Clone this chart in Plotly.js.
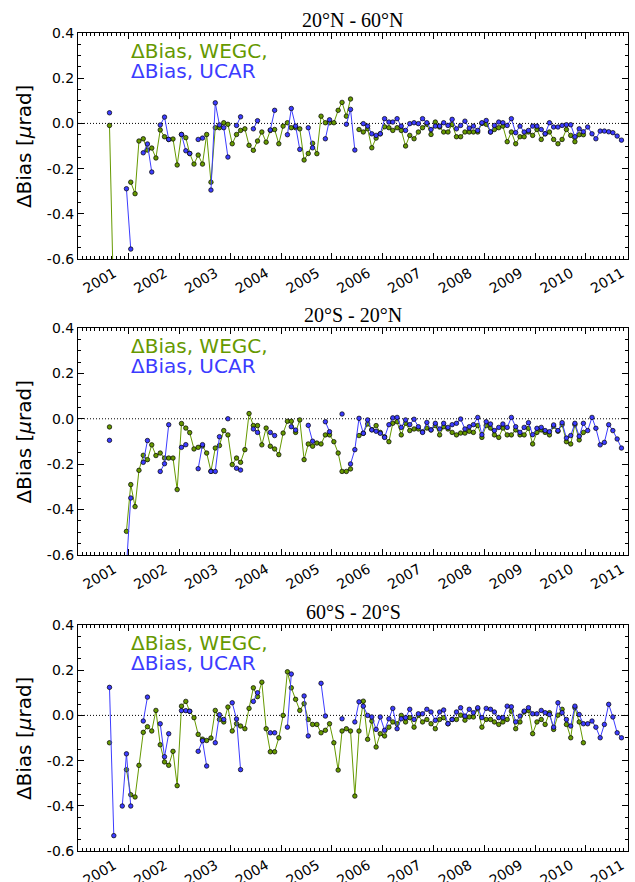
<!DOCTYPE html>
<html>
<head>
<meta charset="utf-8">
<script src="https://cdn.plot.ly/plotly-3.0.1.min.js"></script>
<style>html,body{margin:0;padding:0;background:#fff;}#chart{width:635px;height:882px;}</style>
</head>
<body>
<div id="chart"></div>
<script>
// Monthly dates (mid-month), Aug 2001 .. Sep 2011
const months = [
 '2001-08-15','2001-09-15','2001-10-15','2001-11-15','2001-12-15',
 '2002-01-15','2002-02-15','2002-03-15','2002-04-15','2002-05-15','2002-06-15','2002-07-15','2002-08-15','2002-09-15','2002-10-15','2002-11-15','2002-12-15',
 '2003-01-15','2003-02-15','2003-03-15','2003-04-15','2003-05-15','2003-06-15','2003-07-15','2003-08-15','2003-09-15','2003-10-15','2003-11-15','2003-12-15',
 '2004-01-15','2004-02-15','2004-03-15','2004-04-15','2004-05-15','2004-06-15','2004-07-15','2004-08-15','2004-09-15','2004-10-15','2004-11-15','2004-12-15',
 '2005-01-15','2005-02-15','2005-03-15','2005-04-15','2005-05-15','2005-06-15','2005-07-15','2005-08-15','2005-09-15','2005-10-15','2005-11-15','2005-12-15',
 '2006-01-15','2006-02-15','2006-03-15','2006-04-15','2006-05-15','2006-06-15','2006-07-15','2006-08-15','2006-09-15','2006-10-15','2006-11-15','2006-12-15',
 '2007-01-15','2007-02-15','2007-03-15','2007-04-15','2007-05-15','2007-06-15','2007-07-15','2007-08-15','2007-09-15','2007-10-15','2007-11-15','2007-12-15',
 '2008-01-15','2008-02-15','2008-03-15','2008-04-15','2008-05-15','2008-06-15','2008-07-15','2008-08-15','2008-09-15','2008-10-15','2008-11-15','2008-12-15',
 '2009-01-15','2009-02-15','2009-03-15','2009-04-15','2009-05-15','2009-06-15','2009-07-15','2009-08-15','2009-09-15','2009-10-15','2009-11-15','2009-12-15',
 '2010-01-15','2010-02-15','2010-03-15','2010-04-15','2010-05-15','2010-06-15','2010-07-15','2010-08-15','2010-09-15','2010-10-15','2010-11-15','2010-12-15',
 '2011-01-15','2011-02-15','2011-03-15','2011-04-15','2011-05-15','2011-06-15','2011-07-15','2011-08-15','2011-09-15'
];

const panelTitles = ['20°N - 60°N', '20°S - 20°N', '60°S - 20°S'];
const seriesNames = ['ΔBias, WEGC,', 'ΔBias, UCAR'];
const yTickVals = [-0.6, -0.4, -0.2, 0.0, 0.2, 0.4];
const yTickText = ['-0.6', '-0.4', '-0.2', '0.0', '0.2', '0.4'];
const yTitle = 'ΔBias [<i>μ</i>rad]';

// Panel 1: 20N-60N
const wegc1 = [
 -0.009, -0.82, null, null, null,
 -0.260, -0.311, -0.078, -0.068, -0.118, -0.109, -0.153, -0.029, -0.059, -0.071, -0.069, -0.184,
 -0.049, -0.063, -0.133, -0.180, -0.140, -0.180, -0.049, -0.260, -0.019, -0.019, 0.003, -0.004,
 -0.090, -0.049, -0.031, -0.024, -0.097, -0.119, -0.078, -0.038, -0.083, -0.031, -0.027, -0.090,
 -0.012, 0.003, -0.019, -0.019, -0.024, -0.162, -0.133, -0.088, -0.134, 0.032, 0.003, 0.003,
 0.003, 0.058, 0.093, 0.032, 0.108, null, -0.027, -0.038, -0.024, -0.108, -0.065, -0.046,
 -0.015, -0.019, -0.031, -0.019, -0.031, -0.100, -0.053, -0.068, -0.038, -0.019, -0.004, -0.049,
 0.006, -0.016, -0.038, -0.038, -0.005, -0.059, -0.059, -0.038, -0.038, -0.038, -0.038, 0.000,
 -0.004, -0.038, -0.027, -0.019, -0.012, -0.081, -0.038, -0.090, -0.059, -0.059, -0.038, -0.053,
 -0.027, -0.071, -0.046, -0.038, -0.071, -0.090, -0.071, -0.027, -0.053, -0.081, -0.050, -0.050,
 null, null, null, null, null, null, null, null, null
];
const ucar1 = [
 0.047, null, null, null, -0.289,
 -0.556, null, null, -0.130, -0.091, -0.215, null, -0.007, 0.028, -0.071, null, null,
 -0.049, -0.121, -0.133, null, -0.071, -0.065, null, -0.295, 0.091, -0.007, -0.019, -0.149,
 null, -0.009, 0.029, null, null, -0.024, 0.012, null, null, -0.029, 0.058, null,
 null, -0.050, 0.066, -0.012, -0.115, null, -0.019, -0.108, null, null, -0.068, 0.016,
 null, null, null, -0.004, 0.062, -0.118, null, -0.001, -0.012, -0.046, -0.053, -0.046,
 0.021, 0.006, 0.006, 0.021, -0.012, -0.031, -0.001, 0.003, -0.001, 0.021, 0.003, -0.027,
 -0.012, -0.012, 0.003, -0.009, 0.018, -0.024, -0.009, 0.010, -0.021, -0.012, -0.031, 0.003,
 0.013, -0.038, -0.009, 0.006, 0.003, -0.009, 0.021, -0.041, -0.012, -0.038, -0.031, -0.012,
 -0.012, -0.027, -0.046, 0.003, -0.016, -0.016, -0.009, -0.006, -0.006, -0.059, -0.024, -0.037,
 -0.016, -0.046, -0.068, -0.034, -0.034, -0.037, -0.041, -0.056, -0.074
];

// Panel 2: 20S-20N
const wegc2 = [
 -0.036, null, null, null, -0.496,
 -0.290, -0.387, -0.227, -0.161, -0.180, -0.115, -0.162, -0.151, -0.173, -0.173, -0.173, -0.312,
 -0.021, -0.041, -0.061, -0.133, -0.126, -0.120, -0.151, -0.231, -0.129, -0.118, -0.052, -0.071,
 -0.202, -0.173, -0.192, -0.136, 0.023, -0.030, -0.030, -0.115, -0.041, -0.121, -0.133, -0.158,
 -0.063, -0.011, -0.011, -0.060, -0.005, -0.180, -0.111, -0.121, -0.107, -0.111, -0.071, -0.071,
 -0.101, -0.151, -0.232, -0.232, -0.221, null, -0.074, -0.064, -0.023, -0.048, -0.030, -0.060,
 -0.079, -0.101, -0.020, -0.013, -0.071, -0.020, -0.052, -0.045, -0.045, -0.057, -0.041, -0.049,
 -0.030, -0.071, -0.035, -0.045, -0.060, -0.071, -0.063, -0.063, -0.055, -0.060, -0.030, -0.082,
 -0.030, -0.041, -0.071, -0.082, -0.041, -0.071, -0.071, -0.049, -0.071, -0.071, -0.042, -0.111,
 -0.060, -0.049, -0.060, -0.071, -0.033, -0.055, -0.026, -0.101, -0.111, -0.026, -0.093, -0.060,
 null, null, null, null, null, null, null, null, null
];
const ucar2 = [
 -0.095, null, null, null, -0.65,
 -0.349, null, null, -0.192, -0.096, null, null, -0.232, -0.198, -0.026, null, null,
 -0.126, -0.114, null, null, -0.220, -0.114, null, -0.232, -0.232, -0.079, null, 0.000,
 null, -0.218, -0.226, null, null, -0.045, -0.060, null, null, -0.060, -0.074, null,
 null, null, -0.035, -0.050, null, null, -0.029, -0.099, null, null, -0.013, -0.057,
 null, null, 0.021, null, -0.199, -0.136, 0.002, -0.064, -0.005, -0.049, -0.055, -0.064,
 -0.082, -0.026, 0.004, 0.006, -0.038, -0.005, -0.026, -0.002, -0.035, -0.060, -0.016, -0.049,
 -0.020, -0.045, -0.020, -0.038, -0.026, -0.020, -0.001, -0.045, -0.035, -0.026, 0.006, -0.070,
 -0.013, -0.023, -0.052, -0.038, -0.023, -0.038, 0.006, -0.035, -0.060, -0.038, -0.017, -0.070,
 -0.042, -0.038, -0.052, -0.057, -0.027, -0.052, -0.017, -0.085, -0.074, -0.020, -0.077, -0.020,
 -0.052, 0.006, -0.042, -0.115, -0.104, -0.026, -0.052, -0.089, -0.129
];

// Panel 3: 60S-20S
const wegc3 = [
 -0.121, null, null, null, -0.240,
 -0.351, -0.361, -0.221, -0.075, -0.050, -0.069, 0.022, -0.130, -0.206, -0.221, -0.159, -0.311,
 0.041, 0.062, 0.018, -0.010, -0.084, -0.105, -0.111, -0.100, 0.022, -0.018, -0.029, 0.037,
 -0.069, -0.037, -0.047, -0.059, 0.031, 0.122, 0.083, 0.147, -0.059, -0.161, -0.161, -0.099,
 0.000, 0.193, 0.122, 0.071, 0.022, 0.052, -0.018, -0.040, -0.040, -0.077, -0.066, -0.037,
 -0.121, -0.242, -0.069, -0.059, -0.069, -0.357, -0.069, 0.063, -0.106, -0.025, -0.140, -0.081,
 -0.091, -0.052, -0.029, -0.037, 0.000, -0.029, -0.010, -0.052, 0.000, -0.029, -0.018, -0.037,
 -0.059, -0.018, -0.010, -0.037, -0.018, -0.018, 0.001, -0.021, -0.007, -0.007, 0.029, -0.052,
 -0.018, -0.018, -0.029, -0.040, -0.029, -0.018, 0.019, -0.059, -0.029, 0.015, 0.022, -0.081,
 -0.029, -0.018, -0.040, 0.012, -0.062, 0.001, 0.027, -0.040, -0.099, 0.034, -0.029, -0.121,
 null, null, null, null, null, null, null, null, null
];
const ucar3 = [
 0.124, -0.532, null, -0.401, -0.170,
 -0.401, null, null, -0.025, 0.081, null, null, -0.037, -0.183, -0.081, null, null,
 0.021, 0.021, 0.018, null, -0.159, -0.112, -0.224, null, -0.121, 0.003, -0.018, null,
 0.056, -0.016, -0.240, null, null, 0.062, 0.100, null, null, -0.077, -0.077, null,
 null, -0.052, 0.183, null, null, 0.086, -0.091, null, null, 0.142, -0.003, null,
 null, null, -0.015, null, null, -0.029, 0.060, 0.041, 0.000, -0.007, -0.062, -0.007,
 -0.066, -0.015, 0.031, -0.059, -0.015, -0.010, 0.027, -0.018, 0.007, 0.007, 0.027, 0.015,
 -0.022, 0.015, 0.024, -0.037, -0.018, 0.015, 0.034, -0.003, 0.027, 0.012, 0.034, -0.010,
 0.031, 0.027, 0.015, -0.010, -0.010, 0.041, 0.038, -0.029, -0.003, 0.019, 0.034, 0.007,
 0.007, 0.022, 0.012, 0.004, -0.052, 0.056, 0.012, -0.018, -0.047, 0.041, 0.004, -0.037,
 -0.037, -0.025, -0.052, -0.099, -0.040, 0.049, -0.007, -0.077, -0.099
];

const GREEN = '#669900';
const BLUE = '#3c3cff';
const panels = [[wegc1, ucar1], [wegc2, ucar2], [wegc3, ucar3]];
const yDomains = [[0.7237, 1], [0.3619, 0.6394], [0, 0.2763]];

const traces = [];
const annotations = [];
const shapes = [];
const layout = {
  width: 635, height: 882,
  margin: {l: 78, r: 7, t: 33, b: 31},
  paper_bgcolor: '#fff', plot_bgcolor: '#fff',
  showlegend: false,
  font: {family: 'DejaVu Sans', size: 14, color: '#000'}
};

panels.forEach((p, i) => {
  const sfx = i === 0 ? '' : String(i + 1);
  const xa = 'x' + sfx, ya = 'y' + sfx;
  [0, 1].forEach(k => {
    traces.push({
      type: 'scatter', mode: 'lines+markers',
      x: months, y: p[k], xaxis: xa, yaxis: ya,
      name: seriesNames[k],
      line: {color: k === 0 ? GREEN : BLUE, width: 1},
      marker: {color: k === 0 ? GREEN : BLUE, size: 4.5, line: {color: '#000', width: 0.7}},
      connectgaps: false
    });
  });
  layout['xaxis' + sfx] = {
    anchor: ya, domain: [0, 1], type: 'date',
    range: ['2000-12-31 12:00', '2011-11-01'],
    tick0: '2001-01-01', dtick: 'M12', tickformat: '%Y',
    tickangle: -30, ticklabelshift: 36, ticklabelstandoff: 0,
    ticklabeloverflow: 'allow',
    ticks: 'inside', ticklen: 6, tickwidth: 1, tickcolor: '#000',
    minor: {dtick: 'M1', ticks: 'inside', ticklen: 3, tickwidth: 1, tickcolor: '#000'},
    showline: true, linecolor: '#000', linewidth: 1, mirror: 'allticks',
    showgrid: false, zeroline: false, automargin: false,
    tickfont: {family: 'DejaVu Sans', size: 14, color: '#000'}
  };
  layout['yaxis' + sfx] = {
    anchor: xa, domain: yDomains[i],
    range: [-0.6, 0.4], tickmode: 'array', tickvals: yTickVals, ticktext: yTickText,
    ticks: 'inside', ticklen: 6, tickwidth: 1, tickcolor: '#000',
    minor: {dtick: 0.05, tick0: 0, ticks: 'inside', ticklen: 3, tickwidth: 1, tickcolor: '#000'},
    showline: true, linecolor: '#000', linewidth: 1, mirror: 'allticks',
    showgrid: false, zeroline: false, automargin: false,
    tickfont: {family: 'DejaVu Sans', size: 14, color: '#000'}
  };
  shapes.push({type: 'line', xref: xa + ' domain', yref: ya, x0: 0, x1: 1, y0: 0, y1: 0,
    line: {color: '#000', width: 1, dash: '1px,2px'}, layer: 'below'});
  annotations.push({text: panelTitles[i], xref: xa + ' domain', yref: ya + ' domain',
    x: 0.5, y: 1, xanchor: 'center', yanchor: 'bottom', yshift: 0, showarrow: false,
    font: {family: 'Liberation Serif', size: 20, color: '#000'}});
  annotations.push({text: seriesNames[0], xref: xa + ' domain', yref: ya + ' domain',
    x: 0.093, y: 0.921, xanchor: 'left', yanchor: 'middle', showarrow: false,
    font: {family: 'DejaVu Sans', size: 20, color: GREEN}});
  annotations.push({text: seriesNames[1], xref: xa + ' domain', yref: ya + ' domain',
    x: 0.093, y: 0.834, xanchor: 'left', yanchor: 'middle', showarrow: false,
    font: {family: 'DejaVu Sans', size: 20, color: BLUE}});
  annotations.push({text: yTitle, xref: 'paper', yref: ya + ' domain',
    x: -0.098, y: 0.5, xanchor: 'center', yanchor: 'middle', textangle: -90, showarrow: false,
    font: {family: 'DejaVu Sans', size: 20, color: '#000'}});
});
layout.annotations = annotations;
layout.shapes = shapes;

Plotly.newPlot('chart', traces, layout, {staticPlot: true});
</script>
</body>
</html>
